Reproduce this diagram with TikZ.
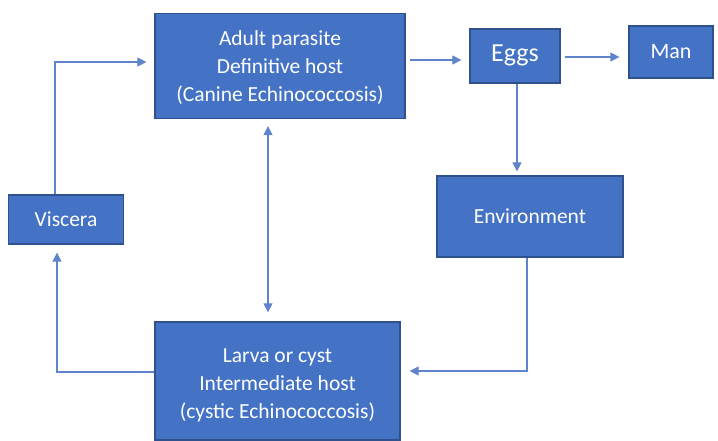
\documentclass[tikz,border=0pt]{standalone}
\usepackage{fontspec}
\setmainfont{Carlito}
\usetikzlibrary{arrows.meta}
\definecolor{boxfill}{HTML}{4472C4}
\definecolor{boxline}{HTML}{2F528F}
\definecolor{arrowc}{HTML}{5F84CC}
\tikzset{
  box/.style={draw=boxline, line width=1.2pt, fill=boxfill, inner sep=0pt},
  boxtext/.style={text=white, align=center, inner sep=0pt, font=\fontsize{21.5}{28}\selectfont},
  conn/.style={draw=arrowc, line width=1.1pt, -{Triangle[length=9pt,width=9pt]}},
  dconn/.style={draw=arrowc, line width=1.1pt, {Triangle[length=9pt,width=9pt]}-{Triangle[length=9pt,width=9pt]}},
}
\begin{document}
\begin{tikzpicture}[x=1pt,y=-1pt]
\useasboundingbox (0,0) rectangle (718,441);
\fill[white] (0,0) rectangle (718,441);
\node[box, minimum width=250pt, minimum height=105pt] (adult) at (280,66) {};
\node[boxtext] (adultt) at ([yshift=-1.5pt]adult.center) {Adult parasite\\Definitive host\\(Canine Echinococcosis)};
\node[box, minimum width=90pt, minimum height=54pt] (eggs) at (515,56) {};
\node[boxtext, font=\fontsize{26}{30}\selectfont] (eggst) at ([yshift=1pt]eggs.center) {Eggs};
\node[box, minimum width=84pt, minimum height=52pt] (man) at (671,52) {};
\node[boxtext, font=\fontsize{22}{28}\selectfont] (mant) at (man.center) {Man};
\node[box, minimum width=186pt, minimum height=81pt] (env) at (530,216.5) {};
\node[boxtext] (envt) at (env.center) {Environment};
\node[box, minimum width=115pt, minimum height=49pt] (visc) at (66,219.5) {};
\node[boxtext] (visct) at (visc.center) {Viscera};
\node[box, minimum width=245pt, minimum height=118pt] (larva) at (277.5,381) {};
\node[boxtext] (larvat) at ([yshift=-4pt]larva.center) {Larva or cyst\\Intermediate host\\(cystic Echinococcosis)};
\coordinate (c1) at (55,62);
\coordinate (c2) at (527,371);
\coordinate (c3) at (57,372);
\draw[conn, shorten >=8pt] (visc.north -| c1) -- (c1) -- (c1 -| adult.west);
\draw[conn, shorten <=4pt, shorten >=8pt] (adult.east |- 0,60) -- (eggs.west |- 0,60);
\draw[conn, shorten <=4pt, shorten >=9pt] (eggs.east |- 0,57) -- (man.west |- 0,57);
\draw[conn, shorten >=4pt] (eggs.south -| 517,0) -- (env.north -| 517,0);
\draw[conn, shorten >=9pt] (env.south -| c2) -- (c2) -- (c2 -| larva.east);
\draw[conn, shorten >=8pt] (larva.west |- c3) -- (c3) -- (c3 |- visc.south);
\draw[dconn, shorten <=7pt, shorten >=9pt] (adult.south -| 268,0) -- (larva.north -| 268,0);
\end{tikzpicture}
\end{document}
